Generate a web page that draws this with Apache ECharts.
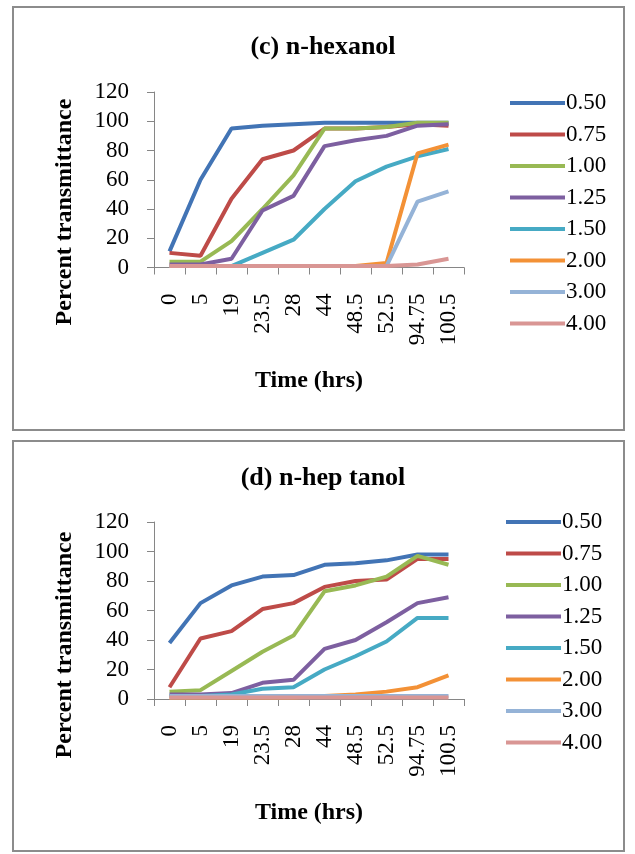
<!DOCTYPE html>
<html>
<head>
<meta charset="utf-8">
<script src="https://cdn.jsdelivr.net/npm/echarts@6/dist/echarts.min.js"></script>
<style>
  html, body { margin: 0; padding: 0; background: #fff; }
  #chart { width: 635px; height: 854px; }
</style>
</head>
<body>
<div id="chart"></div>
<script>
// time points (hrs)
var timeLabels = ['0', '5', '19', '23.5', '28', '44', '48.5', '52.5', '94.75', '100.5'];
var seriesNames = ['0.50', '0.75', '1.00', '1.25', '1.50', '2.00', '3.00', '4.00'];
var lineColors = ['#4274B5', '#BE4B48', '#98B954', '#7D5FA0', '#46AAC4', '#F39136', '#95B3D7', '#D99694'];
var yTicks = [0, 20, 40, 60, 80, 100, 120];

// (c) n-hexanol
var hex050 = [11, 60, 95, 97, 98, 99, 99, 99, 99, 99];
var hex075 = [10, 8, 47, 74, 80, 95, 95, 96, 98, 97];
var hex100 = [4, 4, 18, 40, 63, 95, 95, 96, 99, 99];
var hex125 = [2, 2, 6, 39, 49, 83, 87, 90, 97, 98];
var hex150 = [1, 1, 1, 10, 19, 40, 59, 69, 76, 81];
var hex200 = [1, 1, 1, 1, 1, 1, 1, 3, 78, 84];
var hex300 = [1, 1, 1, 1, 1, 1, 1, 1, 45, 52];
var hex400 = [1, 1, 1, 1, 1, 1, 1, 1, 2, 6];

// (d) n-heptanol
var hep050 = [38, 65, 77, 83, 84, 91, 92, 94, 98, 98];
var hep075 = [8, 41, 46, 61, 65, 76, 80, 81, 95, 95];
var hep100 = [5, 6, 19, 32, 43, 73, 77, 83, 97, 91];
var hep125 = [3, 3, 4, 11, 13, 34, 40, 52, 65, 69];
var hep150 = [2, 2, 3, 7, 8, 20, 29, 39, 55, 55];
var hep200 = [1, 1, 1, 1, 1, 2, 3, 5, 8, 16];
var hep300 = [2, 2, 2, 2, 2, 2, 2, 2, 2, 2];
var hep400 = [1, 1, 1, 1, 1, 1, 1, 1, 1, 1];

var hexData = [hex050, hex075, hex100, hex125, hex150, hex200, hex300, hex400];
var hepData = [hep050, hep075, hep100, hep125, hep150, hep200, hep300, hep400];

var serif = '"Liberation Serif", "Times New Roman", serif';

function makeXAxis(idx) {
	return {
		type: 'category',
		gridIndex: idx,
		data: timeLabels,
		boundaryGap: true,
		axisLine: { lineStyle: { color: '#868686', width: 1 } },
		axisTick: { show: true, length: 7, alignWithLabel: false, lineStyle: { color: '#868686' } },
		axisLabel: { rotate: 90, interval: 0, margin: 26, color: '#000', fontFamily: serif, fontSize: 23 },
		splitLine: { show: false }
	};
}

function makeYAxis(idx) {
	return {
		type: 'value',
		gridIndex: idx,
		min: yTicks[0],
		max: yTicks[yTicks.length - 1],
		interval: 20,
		axisLine: { show: true, lineStyle: { color: '#868686', width: 1 } },
		axisTick: { show: true, length: 7, lineStyle: { color: '#868686' } },
		axisLabel: { margin: 25, color: '#000', fontFamily: serif, fontSize: 23 },
		splitLine: { show: false }
	};
}

function makeLegend(left, top) {
	return {
		orient: 'vertical',
		left: left,
		top: top,
		icon: 'rect',
		itemWidth: 55,
		itemHeight: 4,
		itemGap: 7.5,
		data: seriesNames,
		textStyle: { color: '#000', fontFamily: serif, fontSize: 23, lineHeight: 24, padding: [0, 0, 0, -4] }
	};
}

var series = [];
for (var g = 0; g < 2; g++) {
	var src = g == 0 ? hexData : hepData;
	for (var i = 0; i < seriesNames.length; i++) {
		series.push({
			name: seriesNames[i],
			type: 'line',
			xAxisIndex: g,
			yAxisIndex: g,
			data: src[i],
			showSymbol: false,
			symbol: 'none',
			color: lineColors[i],
			lineStyle: { width: 4, color: lineColors[i] },
			animation: false
		});
	}
}

var chart = echarts.init(document.getElementById('chart'));
var option = {
	backgroundColor: '#fff',
	animation: false,
	title: [{
		text: '(c) n-hexanol',
		left: 318, top: 29, textAlign: 'center',
		textStyle: { fontFamily: serif, fontSize: 26, fontWeight: 'bold', color: '#000' }
	}, {
		text: '(d) n-hep tanol',
		left: 318, top: 460, textAlign: 'center',
		textStyle: { fontFamily: serif, fontSize: 26, fontWeight: 'bold', color: '#000' }
	}],
	legend: [makeLegend(505, 86), makeLegend(501, 505)],
	grid: [
		{ left: 154, top: 92, width: 310, height: 175.5 },
		{ left: 154, top: 522, width: 310, height: 177 }
	],
	xAxis: [makeXAxis(0), makeXAxis(1)],
	yAxis: [makeYAxis(0), makeYAxis(1)],
	series: series,
	graphic: [
		// panel frames
		{ type: 'rect', shape: { x: 13, y: 7, width: 611, height: 423 }, style: { fill: 'none', stroke: '#8c8c8c', lineWidth: 2 }, z: -1 },
		{ type: 'rect', shape: { x: 13, y: 441, width: 611, height: 410 }, style: { fill: 'none', stroke: '#8c8c8c', lineWidth: 2 }, z: -1 },
		// axis titles
		{ type: 'text', x: 65, y: 212, rotation: Math.PI / 2,
		  style: { text: 'Percent transmittance', fontFamily: serif, fontSize: 24, fontWeight: 'bold', fill: '#000', align: 'center', verticalAlign: 'middle' } },
		{ type: 'text', x: 65, y: 645, rotation: Math.PI / 2,
		  style: { text: 'Percent transmittance', fontFamily: serif, fontSize: 24, fontWeight: 'bold', fill: '#000', align: 'center', verticalAlign: 'middle' } },
		{ type: 'text', x: 309, y: 381,
		  style: { text: 'Time (hrs)', fontFamily: serif, fontSize: 24, fontWeight: 'bold', fill: '#000', align: 'center', verticalAlign: 'middle' } },
		{ type: 'text', x: 309, y: 813,
		  style: { text: 'Time (hrs)', fontFamily: serif, fontSize: 24, fontWeight: 'bold', fill: '#000', align: 'center', verticalAlign: 'middle' } }
	]
};
chart.setOption(option);
</script>
</body>
</html>
